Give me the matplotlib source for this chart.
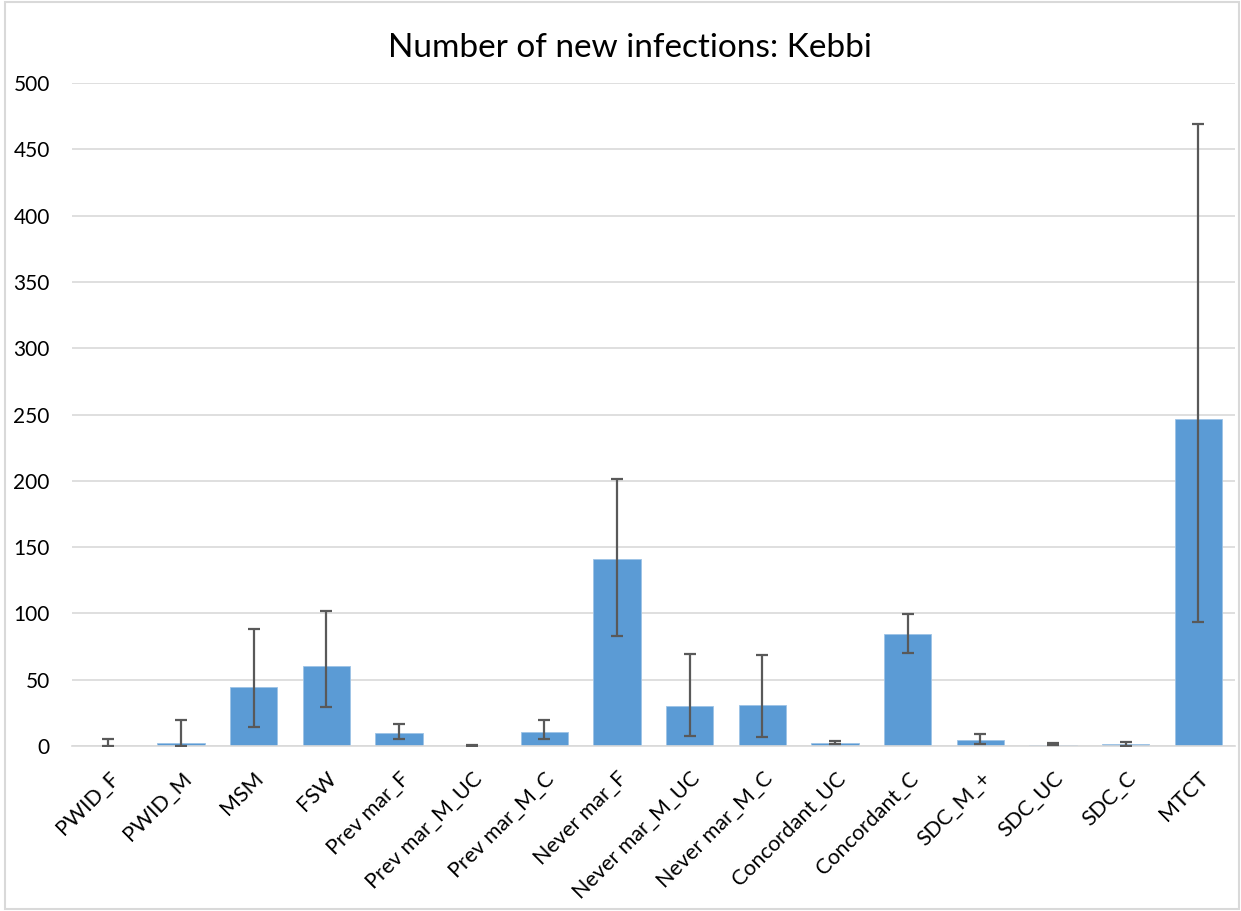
import matplotlib
matplotlib.use("Agg")
import matplotlib.pyplot as plt
import numpy as np
from matplotlib.patches import Rectangle

categories = ["PWID_F", "PWID_M", "MSM", "FSW", "Prev mar_F", "Prev mar_M_UC",
              "Prev mar_M_C", "Never mar_F", "Never mar_M_UC", "Never mar_M_C",
              "Concordant_UC", "Concordant_C", "SDC_M_+", "SDC_UC", "SDC_C", "MTCT"]
values = [0.4, 2.5, 44.3, 60.3, 10.0, 0.3, 10.6, 141.0, 30.4, 30.9, 2.0, 84.5, 4.3, 0.8, 1.3, 246.6]
upper = [5.5, 19.6, 88.5, 101.8, 16.8, 0.8, 19.4, 201.4, 69.4, 68.9, 3.8, 99.5, 9.0, 2.5, 3.3, 469.0]
lower = [0.0, 0.0, 14.1, 29.4, 5.5, 0.1, 5.3, 83.0, 7.5, 7.0, 1.3, 70.4, 1.3, 0.5, 0.3, 93.5]
yticks = [0, 50, 100, 150, 200, 250, 300, 350, 400, 450, 500]

plt.rcParams['font.family'] = ['Lato', 'DejaVu Sans']

fig = plt.figure(figsize=(12.41, 9.11), dpi=100)
fig.patches.append(Rectangle((0.004, 0.002), 0.994, 0.996, transform=fig.transFigure,
                             fill=False, edgecolor="#D9D9D9", linewidth=1.5))
ax = fig.add_axes([0.058, 0.181, 0.937, 0.728])

x = np.arange(len(categories))
vals = np.array(values)
yerr = np.array([vals - np.array(lower), np.array(upper) - vals])
ax.bar(x, vals, width=0.65, color="#5B9BD5", edgecolor="#9DC3E6", linewidth=0.6, zorder=2)
ax.errorbar(x, vals, yerr=yerr, fmt="none", ecolor="#595959", elinewidth=1.6,
            capsize=4.5, capthick=1.6, zorder=3)

ax.set_xlim(-0.5, len(categories) - 0.5)
ax.set_ylim(0, 500)
ax.set_yticks(yticks)
ax.set_yticklabels([str(t) for t in yticks], fontsize=15)
ax.set_xticks(x)
ax.set_xticklabels(categories, rotation=45, ha="right", rotation_mode="anchor", fontsize=15.5)
ax.tick_params(axis="x", length=0, pad=16)
ax.tick_params(axis="y", length=0, pad=16)
ax.grid(axis="y", color="#D9D9D9", linewidth=1.2, zorder=0)
ax.set_axisbelow(True)
for s in ["top", "right", "left"]:
    ax.spines[s].set_visible(False)
ax.spines["bottom"].set_color("#D9D9D9")
ax.spines["bottom"].set_linewidth(1.2)

fig.text(0.508, 0.947, "Number of new infections: Kebbi", ha="center", va="center", fontsize=24)

fig.savefig("out.png", dpi=100)
